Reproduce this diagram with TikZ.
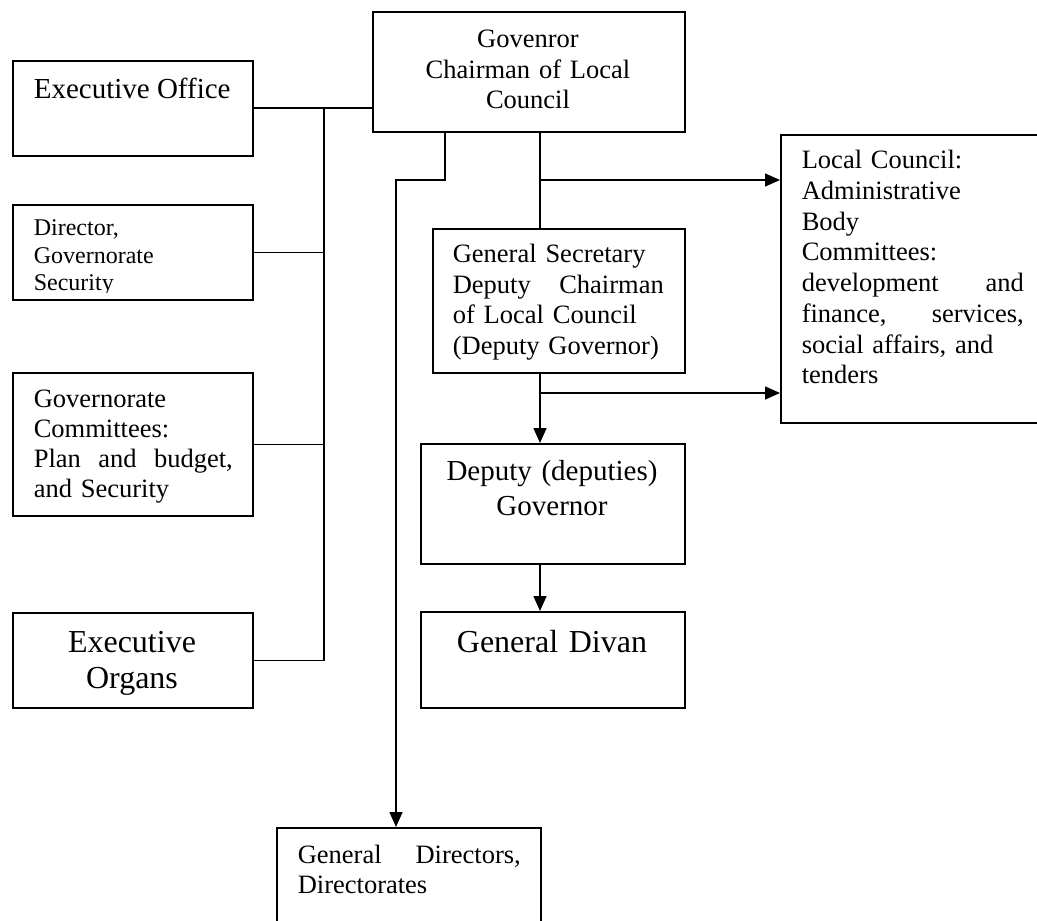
\documentclass[tikz,border=0pt]{standalone}
\usepackage{fontspec}
\setmainfont{Liberation Serif}
\usetikzlibrary{arrows.meta}
\setlength\parindent{0pt}
\newcommand\sfz[2]{\fontsize{#1pt}{#2pt}\selectfont}
\newcommand\fr[1]{\rule{0pt}{#1pt}}
\begin{document}
\begin{tikzpicture}[x=1pt,y=-1pt,line width=1.6pt,
  box/.style={draw,line width=1.6pt,inner sep=0pt,anchor=north west},
  txt/.style={inner sep=0pt,anchor=north west,align=left},
  ctxt/.style={inner sep=0pt,anchor=north,align=center},
  arr/.style={-{Triangle[length=15pt,width=13pt]}}]
\useasboundingbox (0,0) rectangle (1037,921);
\clip (0,0) rectangle (1037,921);
% boxes
\node[box,minimum width=240pt,minimum height=95pt] (eo) at (12,60) {};
\node[box,minimum width=240pt,minimum height=95pt] (dir) at (12,204) {};
\node[box,minimum width=240pt,minimum height=143pt] (gc) at (12,372) {};
\node[box,minimum width=240pt,minimum height=95pt] (eorg) at (12,612) {};
\node[box,minimum width=312pt,minimum height=120pt] (gov) at (372,11) {};
\node[box,minimum width=252pt,minimum height=144pt] (gs) at (432,228) {};
\node[box,minimum width=280pt,minimum height=288pt] (lc) at (780,134) {};
\node[box,minimum width=264pt,minimum height=120pt] (dep) at (420,443) {};
\node[box,minimum width=264pt,minimum height=96pt] (gd) at (420,611) {};
\node[box,minimum width=264pt,minimum height=120pt] (gdir) at (276,827) {};
% texts
\node[ctxt,text width=312pt,font=\sfz{26.5}{30.5}] (govt) at (528,20.5)
  {\fr{26.5}Govenror\\Chairman of Local\\Council};
\node[txt,font=\sfz{29}{33.4}] (eot) at (33,69) {\fr{29}Executive Office};
\begin{scope}
\clip (12,204) rectangle (252,292);
\node[txt,text width=210pt,font=\sfz{24}{27.5}] (dirt) at (33,211)
  {\fr{24}Director,\\Governorate\\Security};
\end{scope}
\node[txt,text width=199pt,font=\sfz{26.5}{30}] (gct) at (33,380.5)
  {\fr{26.5}Governorate\\Committees:\\Plan\hfill and\hfill budget,\\and Security};
\node[ctxt,text width=240pt,font=\sfz{32}{36}] (eorgt) at (132,620)
  {\fr{32}Executive\\Organs};
\node[txt,text width=211pt,font=\sfz{26.5}{30.5}] (gst) at (452,235.5)
  {\fr{26.5}General Secretary\\Deputy\hfill Chairman\\of Local Council\\(Deputy Governor)};
\node[txt,text width=222pt,font=\sfz{26.5}{30.7}] (lct) at (801,141.5)
  {\fr{26.5}Local Council:\\Administrative\\Body\\Committees:\\development\hfill and\\finance,\hfill services,\\social affairs, and\\tenders};
\node[ctxt,text width=264pt,font=\sfz{29}{35}] (dept) at (552,451)
  {\fr{29}Deputy (deputies)\\Governor};
\node[ctxt,text width=264pt,font=\sfz{32}{36}] (gdt) at (552,620)
  {\fr{32}General Divan};
\node[txt,text width=223pt,font=\sfz{26.5}{30}] (gdirt) at (297,836.5)
  {\fr{26.5}General\hfill Directors,\\Directorates};
% connectors: left bus
\coordinate (bt) at (324,108);
\draw (eo.east |- bt) -- (bt -| gov.west);
\draw (eorg.east) -| (bt);
\draw (dir.east) -- (dir.east -| bt);
\draw (gc.east) -- (gc.east -| bt);
% governor to general directors
\coordinate (g1) at (445,180);
\coordinate (g2) at (396,180);
\draw[arr] (gov.south -| g1) -- (g1) -- (g2) -- (g2 |- gdir.north);
% governor to general secretary and local council
\coordinate (m1) at (540,180);
\draw (gov.south -| m1) -- (gs.north -| m1);
\draw[arr] (m1) -- (m1 -| lc.west);
% general secretary to deputy and local council
\coordinate (m2) at (540,393);
\draw[arr] (gs.south -| m2) -- (dep.north -| m2);
\draw[arr] (m2) -- (m2 -| lc.west);
% deputy to general divan
\draw[arr] (dep.south -| m2) -- (gd.north -| m2);
\end{tikzpicture}
\end{document}
